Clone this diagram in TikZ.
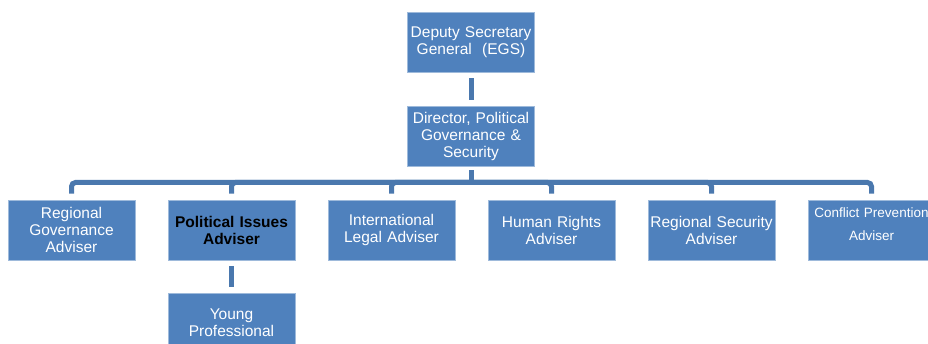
\documentclass[tikz,border=0pt]{standalone}
\usepackage{fontspec}
\setmainfont{Liberation Sans}
\definecolor{boxblue}{HTML}{4F81BD}
\definecolor{lineblue}{HTML}{4A78AE}
\tikzset{post/.style={fill=boxblue, draw=boxblue!55!white, line width=0.6pt,
    minimum width=127pt, minimum height=60pt, text width=126pt, inner sep=0pt,
    align=center, text=white, font=\fontsize{15.5}{17}\selectfont}}
\tikzset{link/.style={draw=lineblue, line width=5pt}}

\begin{document}
\begin{tikzpicture}[x=1pt, y=-1pt]
  \useasboundingbox (0,0) rectangle (928,344);
  \clip (0,0) rectangle (928,344);
  \node [post] (dsg) at (471, 42) {Deputy Secretary\\General\ \ (EGS)};
  \node [post] (dir) at (471, 136) {Director, Political\\Governance \&\\Security};
  \node [post] (rga) at (71.5, 230) {Regional\\Governance\\Adviser};
  \node [post, text=black, font=\fontsize{15.5}{17}\selectfont\bfseries] (pia) at (231.5, 230) {Political Issues\\Adviser};
  \node [post] (ila) at (391.5, 230) {International\\Legal Adviser};
  \node [post] (hra) at (551.5, 230) {Human Rights\\Adviser};
  \node [post] (rsa) at (711.5, 230) {Regional Security\\Adviser};
  \node [post, font=\fontsize{13.5}{23}\selectfont] (cpa) at (871.5, 230) {Conflict Prevention\\Adviser\\[-12pt]\mbox{}};
  \node [post] (ypr) at (231.5, 323) {Young\\Professional};
  \coordinate (bus) at (471, 182.5);
  % connectors
  \draw [link, shorten <=6pt, shorten >=6pt] (dsg) -- (dir);
  \draw [link, shorten <=4pt] (dir) -- (bus);
  \foreach \n in {rga, pia, ila, hra, rsa, cpa}
    \draw [link, rounded corners=4pt] (bus) -| ([yshift=6pt]\n.north);
  \draw [link, shorten <=6pt, shorten >=6pt] (pia) -- (ypr);
\end{tikzpicture}
\end{document}
